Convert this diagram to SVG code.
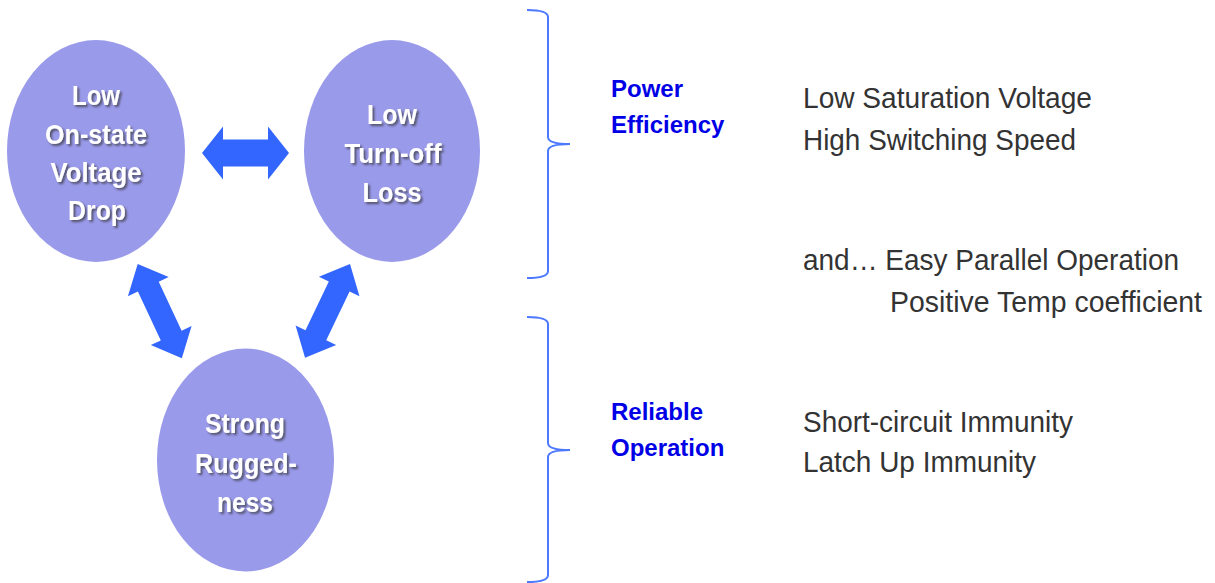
<svg xmlns="http://www.w3.org/2000/svg" width="1215" height="583" viewBox="0 0 1215 583">
<defs>
<style>
.node{fill:#9a9aeb}
.nt{font-family:"Liberation Sans",Arial,sans-serif;font-weight:bold;font-size:28px;fill:#fff;text-anchor:middle;filter:url(#sh)}
.arr{fill:#3366ff}
.br{fill:none;stroke:#4d79ff;stroke-width:2}
.lab{font-family:"Liberation Sans",Arial,sans-serif;font-weight:bold;font-size:24px;fill:#0000e6}
.it{font-family:"Liberation Sans",Arial,sans-serif;font-size:29px;fill:#333}
</style>
<filter id="sh" x="-20%" y="-30%" width="140%" height="160%">
<feDropShadow dx="2" dy="2" stdDeviation="1" flood-color="#333" flood-opacity="0.7"/>
</filter>
<path id="dbl" d="M0,0 L21,-26.5 L21,-13.5 L66,-13.5 L66,-26.5 L87,0 L66,26.5 L66,13.5 L21,13.5 L21,26.5 Z"/>
<path id="dbl2" d="M0,0 L25,-22.5 L25,-11.5 L79,-11.5 L79,-22.5 L104,0 L79,22.5 L79,11.5 L25,11.5 L25,22.5 Z"/>
</defs>
<rect width="1215" height="583" fill="#fff"/>

<g id="connectors">
<use href="#dbl" class="arr" transform="translate(202,153)"/>
<use href="#dbl2" class="arr" transform="translate(137.7,264) rotate(64.9)"/>
<use href="#dbl2" class="arr" transform="translate(350,264) rotate(115.6)"/>
<path class="br" d="M527,10 Q548,10 548,17 V137 Q548,144 570,144 Q548,144 548,151 V271 Q548,278 527,278"/>
<path class="br" d="M527,317 Q548,317 548,324 V443 Q548,450 570,450 Q548,450 548,457 V575 Q548,582 527,582"/>
</g>

<g id="node-onstate">
<ellipse class="node" cx="96" cy="151" rx="89" ry="111"/>
<text class="nt" x="96" y="105" textLength="48" lengthAdjust="spacingAndGlyphs">Low</text>
<text class="nt" x="96" y="144" textLength="102" lengthAdjust="spacingAndGlyphs">On-state</text>
<text class="nt" x="96" y="182" textLength="91" lengthAdjust="spacingAndGlyphs">Voltage</text>
<text class="nt" x="97" y="220" textLength="58" lengthAdjust="spacingAndGlyphs">Drop</text>
</g>

<g id="node-turnoff">
<ellipse class="node" cx="392" cy="151" rx="88" ry="111"/>
<text class="nt" x="392" y="124" textLength="50" lengthAdjust="spacingAndGlyphs">Low</text>
<text class="nt" x="393" y="163" textLength="97" lengthAdjust="spacingAndGlyphs">Turn-off</text>
<text class="nt" x="392" y="202" textLength="59" lengthAdjust="spacingAndGlyphs">Loss</text>
</g>

<g id="node-rugged">
<ellipse class="node" cx="245.5" cy="460" rx="88.5" ry="111.5"/>
<text class="nt" x="245" y="433" textLength="80" lengthAdjust="spacingAndGlyphs">Strong</text>
<text class="nt" x="246" y="473" textLength="102" lengthAdjust="spacingAndGlyphs">Rugged-</text>
<text class="nt" x="245" y="512" textLength="56" lengthAdjust="spacingAndGlyphs">ness</text>
</g>

<g id="labels">
<text class="lab" x="611" y="97">Power</text>
<text class="lab" x="611" y="133">Efficiency</text>
<text class="lab" x="611" y="420">Reliable</text>
<text class="lab" x="611" y="456">Operation</text>
</g>

<g id="items">
<text class="it" x="803" y="108" textLength="289" lengthAdjust="spacingAndGlyphs">Low Saturation Voltage</text>
<text class="it" x="803" y="150" textLength="273" lengthAdjust="spacingAndGlyphs">High Switching Speed</text>
<text class="it" x="803" y="270" textLength="376" lengthAdjust="spacingAndGlyphs">and… Easy Parallel Operation</text>
<text class="it" x="890" y="312" textLength="312" lengthAdjust="spacingAndGlyphs">Positive Temp coefficient</text>
<text class="it" x="803" y="432" textLength="270" lengthAdjust="spacingAndGlyphs">Short-circuit Immunity</text>
<text class="it" x="803" y="472" textLength="233" lengthAdjust="spacingAndGlyphs">Latch Up Immunity</text>
</g>
</svg>
